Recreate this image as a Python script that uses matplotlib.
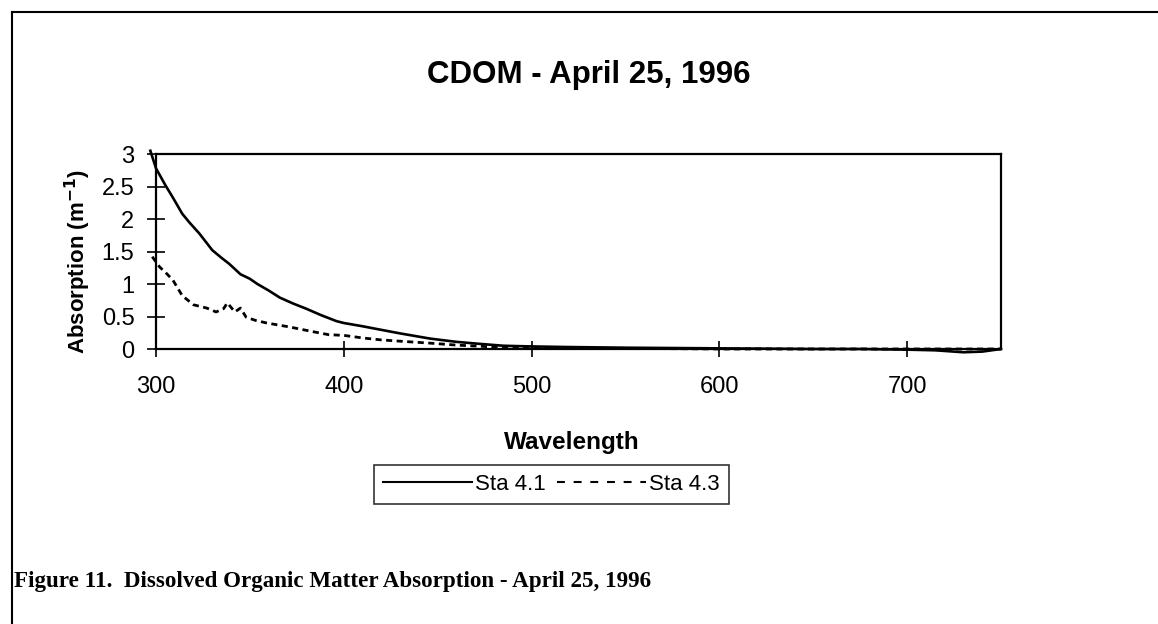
"""
Поглощение растворённого органического вещества (CDOM)
по длине волны, 25 апреля 1996
"""

import matplotlib
matplotlib.use('Agg')
import matplotlib.pyplot as plt  # библиотека для графиков
from matplotlib.lines import Line2D
from matplotlib.ticker import FuncFormatter

# данные
wl_41 = [297, 300, 305, 309, 314, 318, 323, 330, 335, 339, 345, 350, 354, 360,
         366, 373, 380, 388, 396, 400, 410, 419, 430, 446, 460, 472, 485, 499,
         520, 550, 575, 600, 625, 650, 675, 700, 715, 730, 740, 750]
sta_41 = [3.05, 2.78, 2.52, 2.33, 2.08, 1.94, 1.78, 1.52, 1.40, 1.31, 1.15, 1.08,
          1.0, 0.90, 0.79, 0.70, 0.62, 0.52, 0.43, 0.40, 0.35, 0.30, 0.24, 0.16,
          0.11, 0.08, 0.05, 0.04, 0.03, 0.02, 0.015, 0.01, 0.005, 0.0, 0.0,
          -0.01, -0.02, -0.05, -0.04, 0.0]

wl_43 = [298, 302, 305, 309, 314, 320, 327, 332, 336, 338, 340, 342, 345, 348,
         353, 359, 365, 371, 383, 392, 400, 410, 420, 430, 446, 460, 481, 500,
         520, 550, 600, 650, 700, 750]
sta_43 = [1.42, 1.26, 1.18, 1.06, 0.82, 0.68, 0.63, 0.57, 0.62, 0.71, 0.64, 0.57,
          0.63, 0.49, 0.44, 0.40, 0.37, 0.34, 0.27, 0.22, 0.21, 0.17, 0.14, 0.12,
          0.09, 0.06, 0.03, 0.02, 0.01, 0.01, 0.0, 0.0, 0.0, 0.0]

x_ticks = [300, 400, 500, 600, 700]
y_ticks = [0, 0.5, 1, 1.5, 2, 2.5, 3]

plt.rcParams['font.family'] = ['Liberation Sans', 'DejaVu Sans']

fig = plt.figure(figsize=(11.58, 6.24), dpi=100)
ax = fig.add_axes([0.1347, 0.4407, 0.7297, 0.3125])

# линии графиков
ax.plot(wl_41, sta_41, color='black', lw=1.9, clip_on=False)
ax.plot(wl_43, sta_43, color='black', lw=2.0, linestyle=(0, (2.2, 1.6)),
        clip_on=False)

ax.set_xlim(300, 750)
ax.set_ylim(0, 3)
ax.set_xticks(x_ticks)
ax.set_yticks(y_ticks)
ax.yaxis.set_major_formatter(FuncFormatter(lambda v, p: '%g' % v))

for s in ax.spines.values():  # рамка области построения
    s.set_linewidth(1.6)
ax.tick_params(axis='y', direction='inout', length=13, width=1.2, pad=9,
               labelsize=17)
ax.tick_params(axis='x', direction='inout', length=11, width=1.2, pad=14,
               labelsize=17)

# подписи осей
ax.set_xlabel('Wavelength', fontsize=17.5, fontweight='bold')
ax.set_ylabel('Absorption (m$^{\\mathbf{-1}}$)', fontsize=16, fontweight='bold')
ax.xaxis.set_label_coords(0.492, -0.42)
ax.yaxis.set_label_coords(-0.074, 0.45)

# заголовок
fig.text(0.5086, 0.88, 'CDOM - April 25, 1996', fontsize=22.5,
         fontweight='bold', ha='center', va='center')

# легенда (свои маркеры линий, как в исходнике)
h1 = Line2D([], [], color='black', lw=1.5, label='Sta 4.1')
h2 = Line2D([], [], color='black', lw=1.5, dashes=(3.8, 4.2), label='Sta 4.3')
leg = fig.legend(handles=[h1, h2], loc='upper left',
                 bbox_to_anchor=(0.323, 0.255), ncol=2, fontsize=16,
                 frameon=True, fancybox=False, handlelength=4.0,
                 handletextpad=0.15, columnspacing=0.5, borderpad=0.4,
                 borderaxespad=0)
leg.get_frame().set_edgecolor('black')
leg.get_frame().set_linewidth(1.2)

# внешняя рамка (левая и верхняя линии)
x0 = 12 / 1158
y0 = 1 - 12 / 624
fig.add_artist(Line2D([x0, 1], [y0, y0], color='black', lw=1.5))
fig.add_artist(Line2D([x0, x0], [0, y0], color='black', lw=1.5))

# подпись рисунка
fig.text(14 / 1158, 1 - 582 / 624,
         'Figure 11.  Dissolved Organic Matter Absorption - April 25, 1996',
         family=['Liberation Serif', 'DejaVu Serif'], fontsize=16.6,
         fontweight='bold', ha='left', va='center')

plt.savefig('out.png', dpi=100)
